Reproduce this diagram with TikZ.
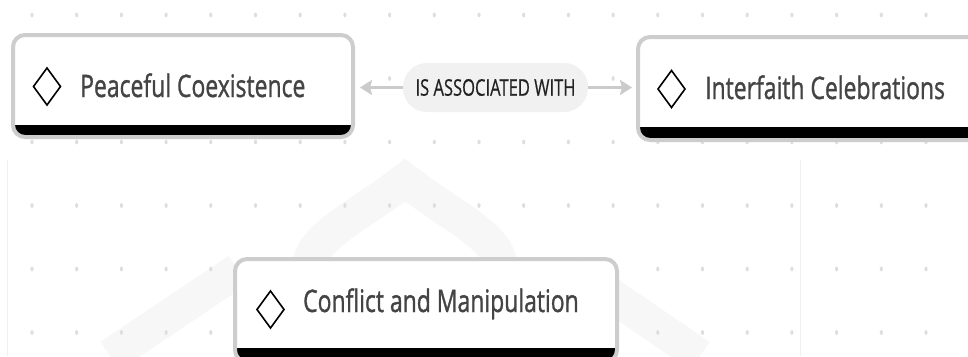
\documentclass[tikz,border=0pt]{standalone}
\usepackage{fontspec}
\setmainfont{Open Sans}
\newfontfamily\semibold{Open Sans}[FakeBold=1.2]
\newfontfamily\medium{Open Sans}[FakeBold=0.6]
\usetikzlibrary{arrows.meta}
\definecolor{cardline}{HTML}{CDCDCD}
\definecolor{titletext}{HTML}{444444}
\definecolor{labeltext}{HTML}{222222}
\definecolor{pillfill}{HTML}{F1F1F1}
\definecolor{arrowgray}{HTML}{CBCBCB}
\definecolor{dotgray}{HTML}{DEDEDE}
\definecolor{wmark}{HTML}{F7F7F7}
\definecolor{panelline}{HTML}{F0F0F0}
\tikzset{
  cardborder/.style={draw=cardline, line width=4pt, rounded corners=12pt, fill=none},
  titlenode/.style={anchor=base west, inner sep=0pt, text=titletext,
    font=\semibold\fontsize{31}{36}\selectfont},
  pill/.style={fill=pillfill, rounded corners=24pt, minimum width=185pt,
    minimum height=49pt, inner sep=0pt, text=labeltext,
    font=\medium\fontsize{23}{28}\selectfont},
  conn/.style={draw=arrowgray, line width=3pt,
    -{Stealth[length=12pt,width=15pt,inset=2pt]}},
  diam/.style={draw=black, line width=1.6pt, line join=miter},
  wm/.style={draw=wmark, line width=34pt, line cap=butt, line join=miter}
}
\newcommand{\cardshape}[5]{% x1 y1 x2 y2 bar-top
  \begin{scope}
    \clip[rounded corners=12pt] (#1,#2) rectangle (#3,#4);
    \fill[white] (#1,#2) rectangle (#3,#4);
    \fill[black] (#1,#5) rectangle (#3,#4);
  \end{scope}
}
\newcommand{\diamondmark}[2]{% center x y
  \draw[diam] (#1-13.5,#2) -- (#1,#2-18.5) -- (#1+13.5,#2) -- (#1,#2+18.5) -- cycle;
}
\begin{document}
\begin{tikzpicture}[x=1pt,y=-1pt]
\useasboundingbox (0,0) rectangle (968,356);
\clip (0,0) rectangle (968,356);
\fill[white] (0,0) rectangle (968,356);

% faint watermark
\draw[panelline, line width=1pt] (7,160) -- (7,356);
\draw[panelline, line width=1pt] (800,160) -- (800,356);
\draw[wm] (310,356) -- (310,262) .. controls (315,235) and (360,215) .. (405,180)
  .. controls (450,215) and (495,235) .. (500,262) -- (500,356);
\draw[wm] (110,356) -- (238,270);
\draw[wm] (700,356) -- (574,270);

% dot grid
\foreach \i in {0,...,21} {
  \foreach \j in {0,...,5} {
    \fill[dotgray] ({32+44.7*\i},{15+63.5*\j}) ellipse (1.6pt and 2.4pt);
  }
}

% cards
\cardshape{13}{35}{353}{137}{125}
\node[cardborder, minimum width=340pt, minimum height=102pt] (pc) at (183,86) {};
\diamondmark{47}{86.5}
\node[titlenode] (pct) at (80,97) {\scalebox{0.74}[1]{Peaceful Coexistence}};

\cardshape{638}{37}{1200}{140}{127}
\node[cardborder, minimum width=562pt, minimum height=103pt] (ic) at (919,88.5) {};
\diamondmark{671.5}{89}
\node[titlenode] (ict) at (705,99) {\scalebox{0.74}[1]{Interfaith Celebrations}};

\cardshape{235}{259}{617}{362}{348}
\node[cardborder, minimum width=382pt, minimum height=103pt] (cm) at (426,310.5) {};
\diamondmark{270.5}{309.5}
\node[titlenode] (cmt) at (303,312) {\scalebox{0.74}[1]{Conflict and Manipulation}};

% edge label and connectors
\node[pill] (lbl) at (495.5,87.5) {\scalebox{0.72}[1]{IS ASSOCIATED WITH}};
\draw[conn] (lbl.west) -- ([xshift=5pt]pc.east |- lbl.west);
\draw[conn] (lbl.east) -- ([xshift=-4pt]ic.west |- lbl.east);
\end{tikzpicture}
\end{document}
